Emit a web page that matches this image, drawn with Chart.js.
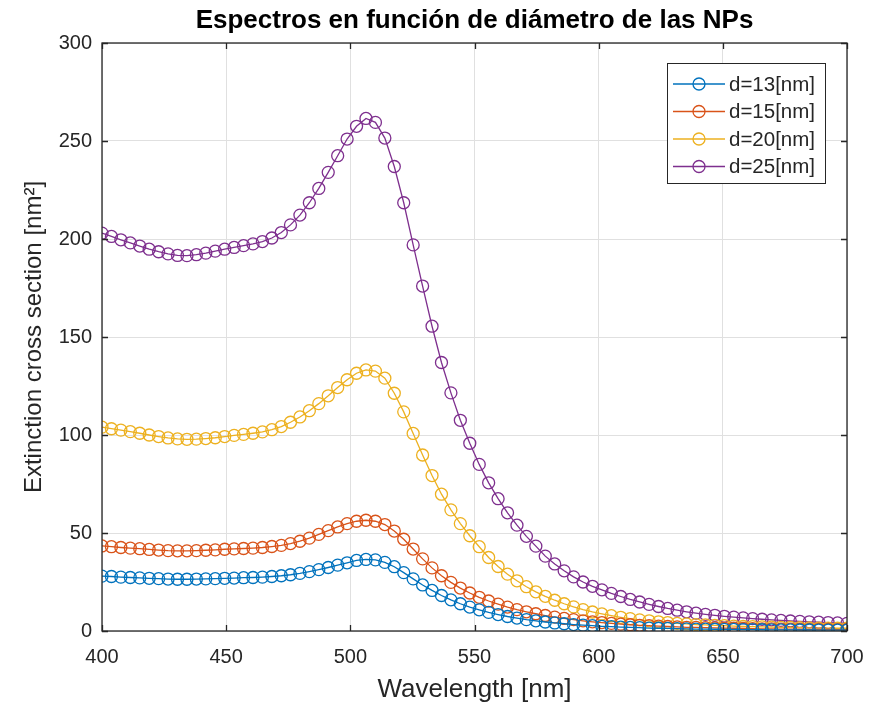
<!DOCTYPE html>
<html>
<head>
<meta charset="utf-8">
<script src="https://cdn.jsdelivr.net/npm/chart.js@4.4.0/dist/chart.umd.min.js"></script>
<style>
  html, body { margin: 0; padding: 0; background: #fff; }
  #wrap { width: 869px; height: 709px; }
</style>
</head>
<body>
<div id="wrap"><canvas id="chart" width="869" height="709"></canvas></div>
<script>
// wavelengths in nm (80 samples from 400 to 700)
const wavelength = [
  400.0, 403.8, 407.6, 411.4, 415.2, 419.0, 422.8, 426.6, 430.4, 434.2,
  438.0, 441.8, 445.6, 449.4, 453.2, 457.0, 460.8, 464.6, 468.4, 472.2,
  475.9, 479.7, 483.5, 487.3, 491.1, 494.9, 498.7, 502.5, 506.3, 510.1,
  513.9, 517.7, 521.5, 525.3, 529.1, 532.9, 536.7, 540.5, 544.3, 548.1,
  551.9, 555.7, 559.5, 563.3, 567.1, 570.9, 574.7, 578.5, 582.3, 586.1,
  589.9, 593.7, 597.5, 601.3, 605.1, 608.9, 612.7, 616.5, 620.3, 624.1,
  627.8, 631.6, 635.4, 639.2, 643.0, 646.8, 650.6, 654.4, 658.2, 662.0,
  665.8, 669.6, 673.4, 677.2, 681.0, 684.8, 688.6, 692.4, 696.2, 700.0
];

const d13 = [
  28.0, 27.8, 27.5, 27.3, 27.1, 26.9, 26.7, 26.5, 26.4, 26.4,
  26.5, 26.6, 26.7, 26.9, 27.0, 27.2, 27.3, 27.5, 27.8, 28.2,
  28.7, 29.4, 30.3, 31.3, 32.4, 33.6, 34.8, 36.0, 36.5, 36.3,
  35.0, 32.8, 29.8, 26.6, 23.5, 20.7, 18.1, 15.9, 13.9, 12.2,
  10.8, 9.5, 8.4, 7.4, 6.6, 5.8, 5.2, 4.6, 4.1, 3.7,
  3.3, 3.0, 2.7, 2.4, 2.2, 2.0, 1.8, 1.7, 1.5, 1.4,
  1.3, 1.2, 1.1, 1.0, 0.95, 0.9, 0.85, 0.8, 0.75, 0.7,
  0.65, 0.6, 0.58, 0.55, 0.52, 0.5, 0.48, 0.46, 0.44, 0.42
];

const d15 = [
  43.4, 43.0, 42.6, 42.3, 42.0, 41.6, 41.3, 41.0, 40.9, 40.9,
  41.0, 41.2, 41.4, 41.7, 41.9, 42.1, 42.3, 42.6, 43.1, 43.7,
  44.6, 45.8, 47.4, 49.3, 51.2, 53.1, 54.8, 56.0, 56.5, 56.0,
  54.3, 51.0, 46.8, 41.8, 36.8, 32.2, 28.2, 24.8, 21.9, 19.4,
  17.2, 15.3, 13.7, 12.2, 10.9, 9.8, 8.8, 7.9, 7.1, 6.4,
  5.8, 5.2, 4.7, 4.3, 3.9, 3.5, 3.2, 2.9, 2.7, 2.5,
  2.3, 2.1, 1.9, 1.8, 1.7, 1.6, 1.5, 1.4, 1.3, 1.2,
  1.1, 1.05, 1.0, 0.95, 0.9, 0.85, 0.8, 0.8, 0.75, 0.7
];

const d20 = [
  104.0, 103.2, 102.5, 101.7, 100.9, 100.0, 99.2, 98.5, 98.0, 97.8,
  97.9, 98.2, 98.6, 99.2, 99.8, 100.3, 100.9, 101.6, 102.7, 104.3,
  106.5, 109.2, 112.4, 116.0, 120.0, 124.2, 128.2, 131.5, 133.2, 132.6,
  129.0, 121.3, 111.8, 100.8, 89.8, 79.3, 69.8, 61.8, 54.8, 48.6,
  43.0, 37.5, 32.9, 29.0, 25.6, 22.6, 20.0, 17.7, 15.7, 13.9,
  12.3, 10.9, 9.7, 8.7, 7.8, 7.0, 6.3, 5.7, 5.2, 4.7,
  4.3, 3.9, 3.6, 3.3, 3.1, 2.9, 2.7, 2.5, 2.3, 2.2,
  2.1, 2.0, 1.9, 1.8, 1.7, 1.6, 1.5, 1.5, 1.4, 1.4
];

const d25 = [
  203.0, 201.3, 199.6, 198.0, 196.4, 194.8, 193.5, 192.4, 191.6, 191.5,
  192.0, 192.8, 193.8, 194.8, 195.7, 196.6, 197.5, 198.7, 200.5, 203.3,
  207.2, 212.2, 218.5, 225.8, 234.0, 242.5, 251.0, 257.5, 261.5, 259.5,
  251.5, 237.0, 218.5, 197.0, 176.0, 155.5, 137.0, 121.5, 107.5, 95.8,
  85.0, 75.6, 67.5, 60.3, 54.0, 48.3, 43.3, 38.2, 34.2, 30.7,
  27.6, 25.0, 22.8, 21.0, 19.2, 17.6, 16.1, 14.8, 13.6, 12.5,
  11.5, 10.6, 9.8, 9.1, 8.5, 8.0, 7.5, 7.1, 6.7, 6.3,
  6.0, 5.7, 5.4, 5.1, 4.9, 4.7, 4.5, 4.3, 4.1, 3.9
];

const seriesLabels = ['d=13[nm]', 'd=15[nm]', 'd=20[nm]', 'd=25[nm]'];
const seriesColors = ['#0072BD', '#D95319', '#EDB120', '#7E2F8E'];
const seriesValues = [d13, d15, d20, d25];

const xTicks = [400, 450, 500, 550, 600, 650, 700];
const yTicks = [0, 50, 100, 150, 200, 250, 300];

const chartTitle = 'Espectros en función de diámetro de las NPs';

const FONT = 'Liberation Sans, Arial, Helvetica, sans-serif';
const AXIS_COLOR = '#262626';

// title, box, inward ticks and legend drawn like the matlab figure
const matlabFrame = {
  id: 'matlabFrame',
  afterDraw(chart) {
    const ctx = chart.ctx;
    const area = chart.chartArea;
    const xs = chart.scales.x;
    const ys = chart.scales.y;
    const tl = 6;

    ctx.save();
    // title centred over the axes
    ctx.fillStyle = '#000';
    ctx.font = 'bold 26px ' + FONT;
    ctx.textAlign = 'center';
    ctx.textBaseline = 'middle';
    ctx.fillText(chartTitle, (area.left + area.right) / 2, 21);

    ctx.strokeStyle = AXIS_COLOR;
    ctx.lineWidth = 1.3;
    ctx.beginPath();
    xTicks.forEach(v => {
      const px = Math.round(xs.getPixelForValue(v)) + 0.5;
      ctx.moveTo(px, area.bottom); ctx.lineTo(px, area.bottom - tl);
      ctx.moveTo(px, area.top); ctx.lineTo(px, area.top + tl);
    });
    yTicks.forEach(v => {
      const py = Math.round(ys.getPixelForValue(v)) + 0.5;
      ctx.moveTo(area.left, py); ctx.lineTo(area.left + tl, py);
      ctx.moveTo(area.right, py); ctx.lineTo(area.right - tl, py);
    });
    ctx.stroke();
    ctx.strokeRect(area.left, area.top, area.right - area.left, area.bottom - area.top);

    // legend
    const bw = 158, bh = 120;
    const bx = area.right - 22 - bw;
    const by = area.top + 20;
    ctx.fillStyle = '#fff';
    ctx.fillRect(bx, by, bw, bh);
    ctx.lineWidth = 1;
    ctx.strokeRect(bx + 0.5, by + 0.5, bw, bh);
    ctx.font = '20.5px ' + FONT;
    ctx.textAlign = 'left';
    ctx.textBaseline = 'middle';
    chart.data.datasets.forEach((ds, i) => {
      const ry = by + 21 + i * 27.5;
      ctx.strokeStyle = ds.borderColor;
      ctx.lineWidth = 1.3;
      ctx.beginPath();
      ctx.moveTo(bx + 6, ry); ctx.lineTo(bx + 58, ry);
      ctx.stroke();
      ctx.beginPath();
      ctx.arc(bx + 32, ry, 6, 0, Math.PI * 2);
      ctx.stroke();
      ctx.fillStyle = AXIS_COLOR;
      ctx.fillText(ds.label, bx + 62, ry + 1);
    });
    ctx.restore();
  }
};

new Chart(document.getElementById('chart').getContext('2d'), {
  type: 'line',
  data: {
    datasets: seriesValues.map((vals, i) => ({
      label: seriesLabels[i],
      data: wavelength.map((w, j) => ({ x: w, y: vals[j] })),
      borderColor: seriesColors[i],
      backgroundColor: 'rgba(0,0,0,0)',
      borderWidth: 1.3,
      pointStyle: 'circle',
      pointRadius: 6,
      pointBorderWidth: 1.3,
      pointBorderColor: seriesColors[i],
      pointBackgroundColor: 'rgba(0,0,0,0)',
      tension: 0
    }))
  },
  options: {
    responsive: false,
    animation: false,
    devicePixelRatio: 1,
    layout: { padding: { top: 43, right: 22, left: 0, bottom: 0 } },
    plugins: {
      legend: { display: false },
      tooltip: { enabled: false },
      title: { display: false }
    },
    scales: {
      x: {
        type: 'linear',
        min: 400,
        max: 700,
        afterBuildTicks: s => { s.ticks = xTicks.map(v => ({ value: v })); },
        afterFit: s => { s.height = 78; s.paddingLeft = 0; s.paddingRight = 0; },
        ticks: { color: AXIS_COLOR, font: { family: FONT, size: 20 }, padding: 14, maxRotation: 0 },
        grid: { color: '#e0e0e0', drawTicks: false },
        border: { display: false },
        title: {
          display: true,
          text: 'Wavelength [nm]',
          color: AXIS_COLOR,
          font: { family: FONT, size: 26 },
          padding: { top: 0, bottom: 4 }
        }
      },
      y: {
        min: 0,
        max: 300,
        afterBuildTicks: s => { s.ticks = yTicks.map(v => ({ value: v })); },
        afterFit: s => { s.width = 102; s.paddingTop = 0; s.paddingBottom = 0; },
        ticks: { color: AXIS_COLOR, font: { family: FONT, size: 20 }, padding: 10 },
        grid: { color: '#e0e0e0', drawTicks: false },
        border: { display: false },
        title: {
          display: true,
          text: 'Extinction cross section [nm²]',
          color: AXIS_COLOR,
          font: { family: FONT, size: 24 },
          padding: { top: 20, bottom: 0 }
        }
      }
    }
  },
  plugins: [matlabFrame]
});
</script>
</body>
</html>
